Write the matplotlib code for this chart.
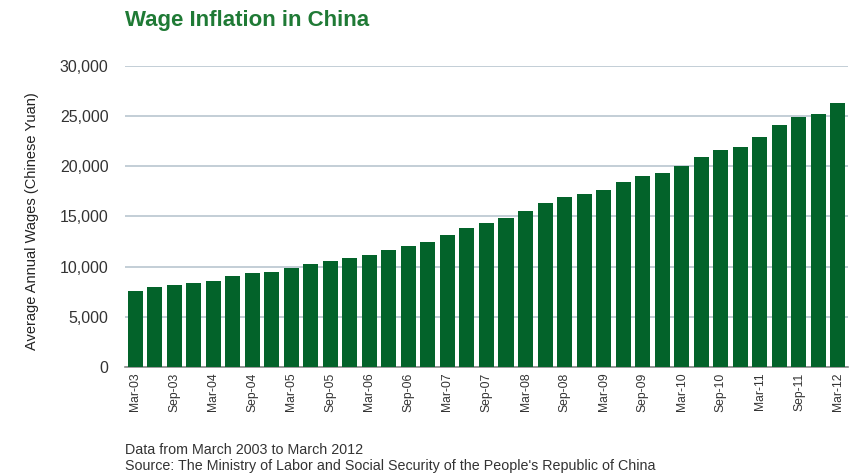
import numpy as np
import matplotlib
matplotlib.use("Agg")
import matplotlib.pyplot as plt

plt.rcParams['font.family'] = ['Liberation Sans', 'DejaVu Sans']

# quarterly periods, Mar-03 .. Mar-12
quarters = ['Mar', 'Jun', 'Sep', 'Dec']
periods = [f'{quarters[i % 4]}-{3 + i // 4:02d}' for i in range(37)]

wages = [7600, 7940, 8170, 8330, 8600, 9090, 9350, 9480, 9840, 10260,
         10600, 10850, 11150, 11630, 12090, 12420, 13100, 13820, 14340, 14800,
         15490, 16340, 16930, 17280, 17580, 18440, 19030, 19360, 19980, 20870,
         21620, 21950, 22930, 24100, 24920, 25250, 26270]

yticks = [0, 5000, 10000, 15000, 20000, 25000, 30000]

fig = plt.figure(figsize=(8.58, 4.74), dpi=100)
ax = fig.add_axes([0.146, 0.226, 0.842, 0.635])

x = np.arange(len(wages))
ax.bar(x, wages, width=0.77, color='#03632a', zorder=3)

ax.set_xlim(-0.5, len(wages) - 0.5)
ax.set_ylim(0, 30000)
ax.set_yticks(yticks)
ax.set_yticklabels([f'{v:,}' for v in yticks], fontsize=11.5, color='#333333')
ax.set_xticks(x[::2])
ax.set_xticklabels(periods[::2], rotation=90, fontsize=8.7, color='#333333')
ax.tick_params(length=0, pad=12)
ax.tick_params(axis='x', pad=4)

ax.grid(axis='y', color='#b9c6cf', linewidth=1.2, zorder=0)
for s in ['top', 'right', 'left']:
    ax.spines[s].set_visible(False)
ax.spines['bottom'].set_color('#8a8a8a')
ax.spines['bottom'].set_linewidth(1.2)

fig.text(32 / 858, 1 - 221 / 474, 'Average Annual Wages (Chinese Yuan)', rotation=90,
         fontsize=10.5, color='#222222', ha='center', va='center')

fig.text(0.146, 0.957, 'Wage Inflation in China', fontsize=16, fontweight='bold',
         color='#1f7a35', va='center')
fig.text(0.146, 0.05, 'Data from March 2003 to March 2012', fontsize=10.3, color='#333333', va='center')
fig.text(0.146, 0.017, "Source: The Ministry of Labor and Social Security of the People's Republic of China",
         fontsize=10.3, color='#333333', va='center')

fig.savefig('out.png', dpi=100)
